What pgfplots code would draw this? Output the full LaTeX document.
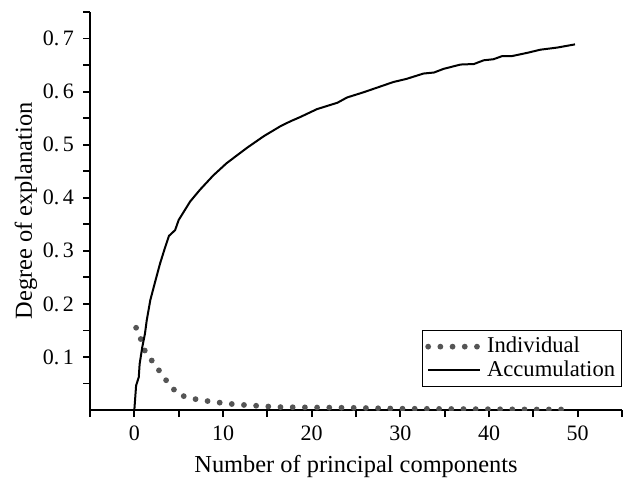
\documentclass[border=0pt]{standalone}
\usepackage{fontspec}
\setmainfont{Liberation Serif}
\usepackage{pgfplots}
\pgfplotsset{compat=1.18}

\definecolor{dotgray}{HTML}{555555}

\begin{document}
\begin{tikzpicture}
\begin{axis}[
    name=ax,
    scale only axis,
    width=266pt, height=199pt,
    xmin=-5, xmax=55, ymin=0, ymax=0.75,
    axis lines=left,
    axis line style={-, line width=1pt},
    tick align=outside,
    major tick length=3.5pt, minor tick length=3.5pt,
    every tick/.style={black, line width=0.9pt},
    xtick={0,10,...,50},
    minor xtick={-5,5,15,25,35,45,55},
    ytick={0.1,0.2,0.3,0.4,0.5,0.6,0.7},
    yticklabels={0.\,1,0.\,2,0.\,3,0.\,4,0.\,5,0.\,6,0.\,7},
    minor ytick={0.05,0.15,0.25,0.35,0.45,0.55,0.65,0.75},
    /pgf/number format/assume math mode=true,
    tick label style={font=\fontsize{11}{13}\selectfont},
    xticklabel style={yshift=-1pt},
    yticklabel style={xshift=-1pt},
    xlabel={Number of principal components},
    ylabel={Degree of explanation},
    label style={font=\fontsize{12.2}{14}\selectfont},
    xlabel style={yshift=-0.5pt},
    ylabel style={yshift=-4pt},
    legend style={at={(1,0.2)}, anchor=north east, draw=black, line width=0.5pt,
        font=\fontsize{11.3}{12}\selectfont, inner sep=1.2pt, row sep=-1.5pt},
    legend cell align=left,
    legend image code/.code={\draw[#1] (0pt,0pt) -- (26pt,0pt);},
]
\addplot[dotgray, line width=2.9pt, line cap=round, dash pattern=on 0pt off 6.1pt] coordinates {
(0.2,0.155) (0.7,0.135) (1.1,0.114) (1.8,0.097) (2.6,0.079) (3.4,0.060)
(4.1,0.045) (5.0,0.029) (6.4,0.022) (7.7,0.018) (9.1,0.015) (10.5,0.012)
(11.9,0.010) (13.3,0.0085) (14.7,0.007) (16.1,0.0055) (20,0.0048) (25,0.004)
(30,0.0025) (35,0.002) (40,0.0015) (45,0.001) (48.5,0.001)
};
\addlegendentry{Individual}
\addplot[black, line width=1pt] coordinates {
(0,0) (0.2,0.046) (0.5,0.062) (0.6,0.087) (0.9,0.119) (1.2,0.144) (1.4,0.169)
(1.8,0.207) (2.4,0.245) (2.9,0.276) (3.5,0.308) (3.9,0.328) (4.6,0.339)
(5.0,0.358) (6.3,0.393) (7.4,0.415) (8.9,0.442) (10.4,0.465) (12.7,0.494)
(14.6,0.516) (16.5,0.535) (17.6,0.544) (18.7,0.552) (20.6,0.567) (22.9,0.579)
(24.0,0.589) (25.9,0.599) (29.2,0.618) (30.7,0.624) (32.6,0.634) (33.8,0.636)
(34.9,0.643) (36.8,0.651) (38.3,0.652) (39.4,0.659) (40.5,0.661) (41.5,0.667)
(42.6,0.667) (44.3,0.673) (45.8,0.679) (47.7,0.683) (49.7,0.689)
};
\addlegendentry{Accumulation}
\end{axis}
\pgfresetboundingbox
\path ([xshift=-45pt,yshift=-34.5pt]ax.south west) rectangle ([xshift=3pt,yshift=6pt]ax.north east);
\end{tikzpicture}
\end{document}
